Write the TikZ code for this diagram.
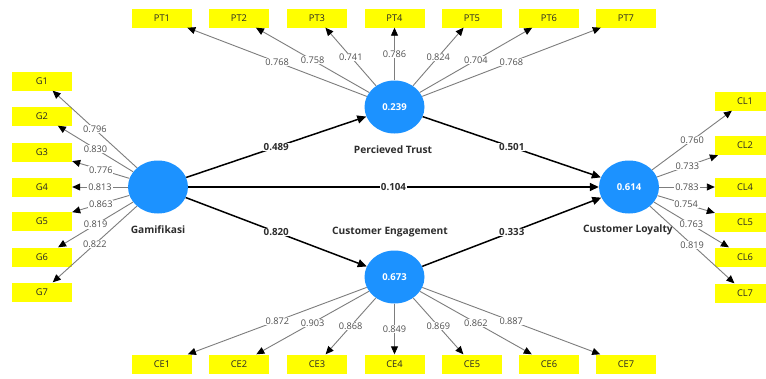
\documentclass[tikz,border=0pt]{standalone}
\usepackage{fontspec}
\setmainfont{Open Sans}
\usetikzlibrary{shapes.geometric,arrows.meta}
\definecolor{lvblue}{RGB}{28,146,255}
\definecolor{itemyellow}{RGB}{255,255,0}
\definecolor{loadline}{RGB}{125,125,125}
\definecolor{loadtext}{RGB}{80,80,80}
\definecolor{darktext}{RGB}{45,45,45}
\begin{document}
\begin{tikzpicture}[x=1pt,y=-1pt,
  lv/.style={ellipse, fill=lvblue, minimum width=60pt, minimum height=53pt, inner sep=0pt,
    text=white, font=\bfseries\fontsize{9.5}{10}\selectfont},
  item/.style={rectangle, fill=itemyellow, minimum width=60pt, minimum height=19pt, inner sep=0pt,
    text=black!85, font=\fontsize{9.3}{10}\selectfont},
  load/.style={draw=loadline, line width=0.9pt, -{Triangle[length=8pt,width=7pt,color=black]}},
  path/.style={draw=black, line width=1.5pt, -{Triangle[length=9pt,width=8pt,color=black]}},
  loadlab/.style={fill=white, inner sep=0.8pt, text=loadtext, font=\fontsize{9.2}{10}\selectfont},
  pathlab/.style={fill=white, inner sep=0.8pt, text=darktext, font=\bfseries\fontsize{9.8}{10}\selectfont},
  lvname/.style={text=darktext, font=\bfseries\fontsize{10.2}{11}\selectfont}]
\useasboundingbox (0,0) rectangle (766,378);
\clip (0,0) rectangle (766,378);
\fill[white] (0,0) rectangle (766,378);

% latent variables
\node[lv] (gam) at (158,187) {};
\node[lv] (pt) at (394.5,107) {0.239};
\node[lv] (ce) at (394.5,277) {0.673};
\node[lv] (cl) at (629,187) {0.614};

\node[lvname] (gamname) at (158,230) {Gamifikasi};
\node[lvname] (ptname) at (393,150) {Percieved Trust};
\node[lvname] (cename) at (390,232) {Customer Engagement};
\node[lvname] (clname) at (628,230) {Customer Loyalty};

% indicators
\foreach \i/\y in {1/81,2/116,3/152,4/187,5/221,6/257,7/292}
  \node[item] (g\i) at (42,\y) {G\i};
\foreach \i/\x in {1/162,2/239,3/317,4/394.5,5/472,6/549,7/626}
  \node[item] (pt\i) at (\x,18) {PT\i};
\foreach \i/\x in {1/162,2/239,3/317,4/394.5,5/472,6/549,7/626}
  \node[item] (ce\i) at (\x,364) {CE\i};
\foreach \n/\y in {1/101,2/145.5,4/187,5/222,6/257,7/293}
  \node[item] (cl\n) at (745,\y) {CL\n};

% loadings
\foreach \i/\v in {1/0.796,2/0.830,3/0.776,4/0.813,5/0.863,6/0.819,7/0.822}
  \draw[load] (gam) -- node[loadlab] {\v} (g\i);
\foreach \i/\v in {1/0.768,2/0.758,3/0.741,4/0.786,5/0.824,6/0.704,7/0.768}
  \draw[load] (pt) -- node[loadlab] {\v} (pt\i);
\foreach \i/\v in {1/0.872,2/0.903,3/0.868,4/0.849,5/0.869,6/0.862,7/0.887}
  \draw[load] (ce) -- node[loadlab] {\v} (ce\i);
\foreach \n/\v in {1/0.760,2/0.733,4/0.783,5/0.754,6/0.763,7/0.819}
  \draw[load] (cl) -- node[loadlab] {\v} (cl\n);

% structural paths
\draw[path] (gam) -- node[pathlab] {0.489} (pt);
\draw[path] (gam) -- node[pathlab] {0.104} (cl);
\draw[path] (gam) -- node[pathlab] {0.820} (ce);
\draw[path] (pt) -- node[pathlab] {0.501} (cl);
\draw[path] (ce) -- node[pathlab] {0.333} (cl);
\end{tikzpicture}
\end{document}
